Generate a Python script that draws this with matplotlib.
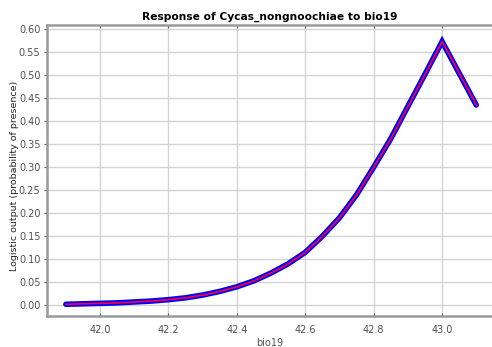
import matplotlib
matplotlib.use("Agg")
import matplotlib.pyplot as plt

# response curve
bio19 = [41.9, 41.95, 42.0, 42.05, 42.1, 42.15, 42.2, 42.25, 42.3, 42.35,
         42.4, 42.45, 42.5, 42.55, 42.6, 42.65, 42.7, 42.75, 42.8, 42.85,
         42.9, 42.95, 43.0, 43.1]
response = [0.002, 0.003, 0.004, 0.005, 0.007, 0.009, 0.012, 0.016, 0.022, 0.030,
            0.040, 0.053, 0.070, 0.090, 0.115, 0.150, 0.190, 0.240, 0.300, 0.362,
            0.432, 0.502, 0.573, 0.435]

x_ticks = [42.0, 42.2, 42.4, 42.6, 42.8, 43.0]
y_ticks = [0.00, 0.05, 0.10, 0.15, 0.20, 0.25, 0.30, 0.35, 0.40, 0.45, 0.50, 0.55, 0.60]

fig = plt.figure(figsize=(4.92, 3.47), dpi=100)
ax = fig.add_axes([0.095, 0.090, 0.905, 0.838])

ax.plot(bio19, response, color="#0000ff", lw=4, solid_capstyle="round", solid_joinstyle="miter")
ax.plot(bio19, response, color="#ff0033", lw=1.2, solid_joinstyle="miter")

ax.set_xlim(41.844, 43.146)
ax.set_ylim(-0.023, 0.609)
ax.set_xticks(x_ticks)
ax.set_xticklabels([f"{v:.1f}" for v in x_ticks])
ax.set_yticks(y_ticks)
ax.set_yticklabels([f"{v:.2f}" for v in y_ticks])

ax.grid(True, color="#d4d4d4", lw=1)
ax.set_axisbelow(True)
for side in ["left", "bottom", "top"]:
    ax.spines[side].set_color("#999999")
    ax.spines[side].set_linewidth(1.8)
ax.spines["right"].set_visible(False)

ax.tick_params(axis="both", labelsize=7, labelcolor="#505050", color="#555555",
               length=2.5, width=0.8)
ax.tick_params(axis="x", direction="in", top=True, pad=7)
ax.tick_params(axis="y", direction="out", pad=2)

ax.set_title("Response of Cycas_nongnoochiae to bio19", fontsize=7.7, fontweight="bold", pad=4)
ax.set_xlabel("bio19", fontsize=7, color="#505050", labelpad=2)
ax.set_ylabel("Logistic output (probability of presence)", fontsize=6.8, color="#222222")
ax.yaxis.set_label_coords(-0.062, 0.48)

fig.savefig("out.png", dpi=100)
